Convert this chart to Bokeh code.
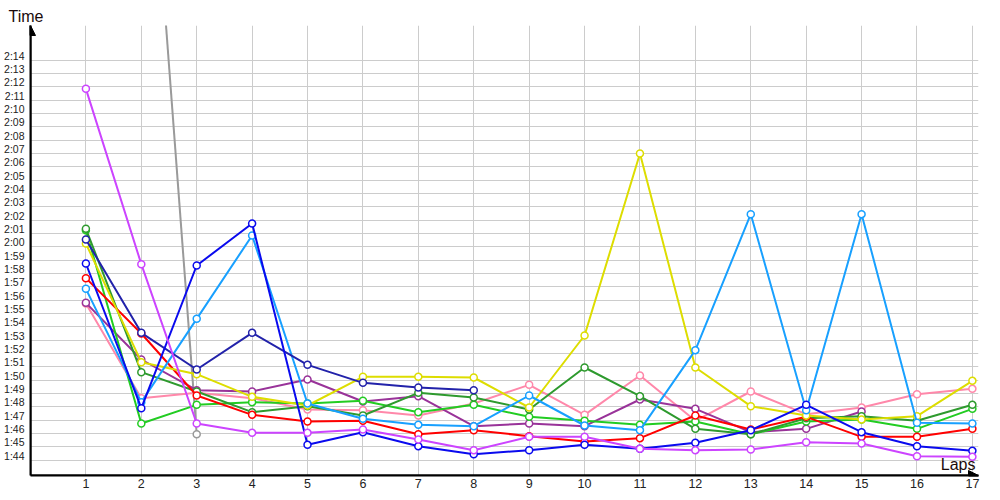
import math
from bokeh.plotting import figure
from bokeh.models import Range1d, FixedTicker, Arrow, NormalHead, Label, Title
from bokeh.embed import file_html
from bokeh.resources import INLINE

nan = float("nan")

laps = list(range(1, 18))

# lap times in seconds (m*60 + s)
gray = [nan, 160.9, 105.6] + [nan] * 14
magenta = [131.5, 118.35, 106.4, 105.7, 105.7, 105.95, 105.2, 104.4, 105.4, 105.4,
           104.5, 104.4, 104.45, 105.0, 104.9, 103.95, 103.9]
blue = [118.4, 107.55, 118.25, 121.4, 104.8, 105.75, 104.7, 104.1, 104.4, 104.8,
        104.5, 104.95, 105.9, 107.8, 105.75, 104.7, 104.35]
navy = [120.2, 113.2, 110.45, 113.2, 110.8, 109.45, 109.1, 108.9] + [nan] * 9
light_blue = [116.5, 108.0, 114.25, 120.5, 107.9, 106.75, 106.3, 106.2, 108.5, 106.25,
              105.9, 111.9, 122.1, 107.4, 122.1, 106.45, 106.4]
yellow = [119.9, 111.0, 110.1, 108.4, 107.75, 109.9, 109.9, 109.85, 107.6, 113.0,
          126.65, 110.6, 107.7, 107.0, 106.7, 106.95, 109.6]
red = [117.3, 113.15, 108.5, 107.05, 106.55, 106.6, 105.6, 105.9, 105.45, 105.05,
       105.3, 107.0, 105.95, 106.9, 105.4, 105.4, 106.0]
dark_green = [121.0, 110.25, 108.8, 107.25, 107.7, 107.0, 108.7, 108.35, 107.45, 110.6,
              108.45, 106.0, 105.6, 106.8, 106.95, 106.6, 107.8]
bright_green = [120.9, 106.4, 107.8, 108.0, 107.9, 108.1, 107.25, 107.8, 106.9, 106.6,
                106.3, 106.55, 105.6, 106.55, 106.7, 106.0, 107.5]
purple = [115.45, 111.2, 108.9, 108.8, 109.7, 108.05, 108.45, 106.2, 106.4, 106.2,
          108.2, 107.5, 105.75, 106.0, 107.3, nan, nan]
pink = [115.4, 108.3, 108.7, 108.3, 107.45, 107.4, 107.0, 107.9, 109.3, 107.05,
        110.0, 106.6, 108.8, 107.1, 107.6, 108.6, 109.0]

series = [
    (gray, "#9a9a9a"),
    (pink, "#ff88aa"),
    (purple, "#993399"),
    (bright_green, "#22cc22"),
    (dark_green, "#2e9a2e"),
    (red, "#ff0000"),
    (yellow, "#dddd00"),
    (light_blue, "#18a0ff"),
    (navy, "#2222aa"),
    (blue, "#0a0aee"),
    (magenta, "#cc44ff"),
]

y_ticks = list(range(104, 135))
y_labels = {t: f"{t // 60}:{t % 60:02d}" for t in y_ticks}

X0, X1 = 0, 17.11
Y0, Y1 = 102.5, 136.25

p = figure(width=992, height=492, output_backend="svg", toolbar_location=None,
           x_range=Range1d(X0, X1), y_range=Range1d(Y0, Y1),
           min_border_left=30, min_border_right=14, min_border_top=25, min_border_bottom=17)
p.outline_line_color = None
p.background_fill_color = "white"

t = Title(text="Time", align="left", offset=-22, standoff=1,
          text_font="Liberation Sans", text_font_size="16px", text_font_style="normal",
          text_color="#1a0a0a")
p.title = t

# axes
p.xaxis.ticker = FixedTicker(ticks=laps)
p.yaxis.ticker = FixedTicker(ticks=y_ticks)
p.yaxis.major_label_overrides = y_labels
for ax in (p.xaxis[0], p.yaxis[0]):
    ax.axis_line_color = "black"
    ax.axis_line_width = 2
    ax.major_tick_line_color = None
    ax.minor_tick_line_color = None
    ax.major_tick_out = 0
    ax.major_tick_in = 0
    ax.minor_tick_out = 0
    ax.minor_tick_in = 0
    ax.axis_label_standoff = 0
    ax.major_label_text_color = "#222222"
    ax.major_label_text_font = "Liberation Sans"
p.xaxis.major_label_text_font_size = "12.5px"
p.xaxis.major_label_standoff = 3
p.yaxis.major_label_text_font_size = "10.5px"
p.yaxis.major_label_standoff = 6

# grid
p.xgrid.ticker = FixedTicker(ticks=laps)
p.ygrid.ticker = FixedTicker(ticks=[v - 0.36 for v in y_ticks])
p.xgrid.grid_line_color = "#cccccc"
p.ygrid.grid_line_color = "#cccccc"

for ys, col in series:
    p.line(laps, ys, line_color=col, line_width=2)
    p.scatter(laps, ys, size=7, marker="circle", fill_color="white",
              line_color=col, line_width=1.5)

# axis arrows
p.add_layout(Arrow(end=NormalHead(size=10, fill_color="black", line_color="black"),
                   x_start=X0, y_start=Y0, x_end=X1, y_end=Y0,
                   line_color="black", line_width=2))
p.add_layout(Arrow(end=NormalHead(size=10, fill_color="black", line_color="black"),
                   x_start=X0, y_start=Y0, x_end=X0, y_end=Y1,
                   line_color="black", line_width=2))

p.add_layout(Label(x=X1, y=102.72, text="Laps", text_align="right",
                   text_baseline="bottom", x_offset=-3,
                   text_font="Liberation Sans", text_font_size="16px",
                   text_color="#1a0a0a"))

open("out.html", "w").write(file_html(p, INLINE))
